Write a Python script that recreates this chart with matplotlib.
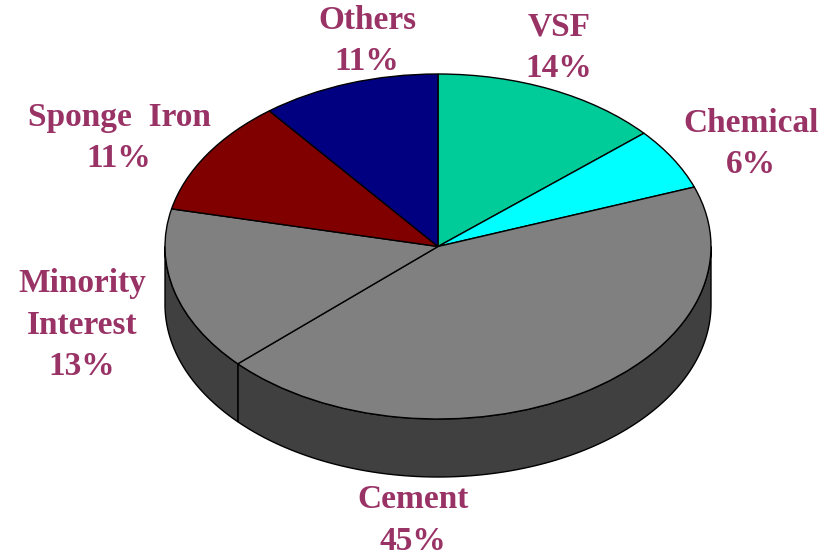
import numpy as np
import matplotlib
matplotlib.use("Agg")
import matplotlib.pyplot as plt

categories = ["VSF", "Chemical", "Cement", "Minority\nInterest", "Sponge  Iron", "Others"]
labels_pct = ["14%", "6%", "45%", "13%", "11%", "11%"]
drawn_share = [13.6, 5.8, 43.7, 15.4, 10.9, 10.6]
top_colors = ["#00CC99", "#00FFFF", "#808080", "#808080", "#800000", "#000080"]
side_color = "#404040"
text_color = "#993366"

W, H = 833, 555
CX, CY, RX, RY, DEPTH = 438, 246.5, 273, 172.5, 58

fig = plt.figure(figsize=(W / 100, H / 100), dpi=100, facecolor="white")
ax = fig.add_axes([0, 0, 1, 1])

wedges, _ = ax.pie(drawn_share, colors=top_colors, startangle=90, counterclock=False,
                   radius=1, center=(0, 0), normalize=True,
                   wedgeprops=dict(edgecolor="black", linewidth=1.0, zorder=5))
ax.set_aspect("auto")
ax.set_xlim(-CX / RX, (W - CX) / RX)
ax.set_ylim((CY - H) / RY, CY / RY)
ax.axis("off")

d = DEPTH / RY
edges = np.concatenate([[0], np.cumsum(drawn_share)]) / np.sum(drawn_share) * 360
for a0, a1 in zip(edges[:-1], edges[1:]):
    lo, hi = max(a0, 90), min(a1, 270)
    if hi <= lo:
        continue
    t = np.radians(np.linspace(lo, hi, 120))
    x, y = np.sin(t), np.cos(t)
    ax.fill(np.r_[x, x[::-1]], np.r_[y, y[::-1] - d], facecolor=side_color,
            edgecolor="black", linewidth=1.0, zorder=2)

label_px = [(559, 48), (751, 144), (413, 520.5), (82, 325), (119, 138), (367, 41)]
for name, pct, (px, py) in zip(categories, labels_pct, label_px):
    fig.text(px / W, 1 - py / H, f"{name}\n{pct}", ha="center", va="center",
             family="Liberation Serif", weight="bold", fontsize=24,
             color=text_color, linespacing=1.42)

fig.savefig("out.png", dpi=100)
